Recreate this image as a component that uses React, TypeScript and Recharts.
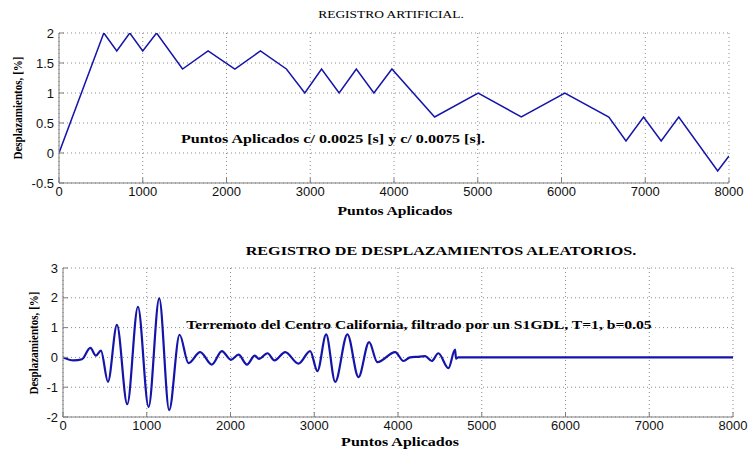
import React from "react";
import { LineChart, Line, XAxis, YAxis, CartesianGrid } from "recharts";

// x ticks shared by both plots
const xTicks = [0, 1000, 2000, 3000, 4000, 5000, 6000, 7000, 8000];
const artificialYTicks = [-0.5, 0, 0.5, 1, 1.5, 2];
const quakeYTicks = [-2, -1, 0, 1, 2, 3];

// REGISTRO ARTIFICIAL (piecewise linear)
const artificialX = [0, 535, 690, 845, 1000, 1165, 1475, 1780, 2100, 2405, 2715, 2935, 3135, 3345, 3550, 3760, 3975, 4485, 5005, 5520, 6040, 6565, 6770, 6980, 7190, 7400, 7865, 8000];
const artificialY = [0, 2, 1.7, 2, 1.7, 2, 1.4, 1.7, 1.4, 1.7, 1.4, 1, 1.4, 1, 1.4, 1, 1.4, 0.6, 1, 0.6, 1, 0.6, 0.2, 0.6, 0.2, 0.6, -0.3, -0.05];

// REGISTRO DE DESPLAZAMIENTOS ALEATORIOS (peaks / troughs)
const quakeX = [0, 127, 227, 326, 393, 453, 537, 644, 767, 895, 1022, 1149, 1268, 1392, 1499, 1638, 1778, 1897, 2005, 2096, 2196, 2290, 2340, 2442, 2525, 2653, 2812, 2951, 3038, 3142, 3250, 3396, 3528, 3655, 3754, 3966, 4065, 4145, 4230, 4324, 4403, 4482, 4602, 4681, 4693, 4720, 6000, 8000];
const quakeY = [0, -0.1, -0.06, 0.32, 0.06, 0.23, -0.82, 1.09, -1.57, 1.7, -1.66, 1.98, -1.77, 0.76, -0.19, 0.18, -0.24, 0.21, -0.08, 0.09, -0.24, 0.06, -0.05, 0.14, -0.1, 0.18, -0.21, 0.21, -0.46, 0.77, -0.82, 0.77, -0.66, 0.51, -0.16, 0.18, -0.12, 0.0, 0.02, 0.04, -0.12, 0.14, -0.36, 0.26, -0.04, 0, 0, 0];

const artificialData = artificialX.map((x, i) => ({ x, y: artificialY[i] }));
const quakeData = quakeX.map((x, i) => ({ x, y: quakeY[i] }));

const axisColor = "#7f7f7f";
const lineColor = "#1414aa";
const tickStyle = { fontFamily: "'Liberation Sans', Arial, sans-serif", fontSize: 13, fill: "#111" };
const serif = "'Liberation Serif', 'Times New Roman', serif";

// matlab's serif text comes out wider than Times, so stretch it a bit
const Label = ({ left, top, size, bold, children, rotate, stretch = 1 }: any) => (
  <div
    style={{
      position: "absolute",
      left,
      top,
      fontFamily: serif,
      fontSize: size,
      fontWeight: bold ? "bold" : "normal",
      whiteSpace: "nowrap",
      color: "#000",
      transform: rotate
        ? `translate(-50%, -50%) rotate(-90deg) scaleX(${stretch})`
        : `translate(-50%, -50%) scaleX(${stretch})`,
      lineHeight: 1,
    }}
  >
    {children}
  </div>
);

interface PlotProps {
  data: { x: number; y: number }[];
  yTicks: number[];
  width: number;
  height: number;
  margin: { top: number; right: number; left: number; bottom: number };
  yWidth: number;
  xHeight: number;
  strokeWidth: number;
  curve: "linear" | "monotone";
}

const Plot = ({ data, yTicks, width, height, margin, yWidth, xHeight, strokeWidth, curve }: PlotProps) => {
  const yDomain = [yTicks[0], yTicks[yTicks.length - 1]];
  return (
    <LineChart width={width} height={height} data={data} margin={margin}>
      <CartesianGrid stroke="#8a8a8a" strokeDasharray="1 3" />
      <XAxis
        dataKey="x"
        type="number"
        domain={[0, 8000]}
        ticks={xTicks}
        interval={0}
        height={xHeight}
        stroke={axisColor}
        tickSize={-5}
        tickMargin={9}
        tick={tickStyle}
        allowDataOverflow
      />
      <XAxis
        xAxisId="top"
        dataKey="x"
        type="number"
        orientation="top"
        domain={[0, 8000]}
        ticks={xTicks}
        interval={0}
        height={0}
        stroke={axisColor}
        tickSize={-5}
        tickFormatter={() => ""}
        allowDataOverflow
      />
      <YAxis
        type="number"
        domain={yDomain}
        ticks={yTicks}
        interval={0}
        width={yWidth}
        stroke={axisColor}
        tickSize={-5}
        tickMargin={10}
        tick={tickStyle}
        allowDataOverflow
      />
      <YAxis
        yAxisId="right"
        type="number"
        orientation="right"
        domain={yDomain}
        ticks={yTicks}
        interval={0}
        width={0}
        stroke={axisColor}
        tickSize={-5}
        tickFormatter={() => ""}
        allowDataOverflow
      />
      <Line
        type={curve}
        dataKey="y"
        stroke={lineColor}
        strokeWidth={strokeWidth}
        dot={false}
        activeDot={false}
        isAnimationActive={false}
      />
    </LineChart>
  );
};

const App = () => {
  return (
    <div style={{ position: "absolute", left: 0, top: 0, width: 748, height: 449, background: "#fff", overflow: "hidden" }}>
      <div style={{ position: "absolute", left: 0, top: 0 }}>
        <Plot
          data={artificialData}
          yTicks={artificialYTicks}
          width={748}
          height={225}
          margin={{ top: 33, right: 19, left: 0, bottom: 0 }}
          yWidth={59}
          xHeight={42}
          strokeWidth={1.5}
          curve="linear"
        />
      </div>
      <div style={{ position: "absolute", left: 0, top: 230 }}>
        <Plot
          data={quakeData}
          yTicks={quakeYTicks}
          width={748}
          height={219}
          margin={{ top: 38, right: 15, left: 0, bottom: 0 }}
          yWidth={63}
          xHeight={32}
          strokeWidth={2.2}
          curve="monotone"
        />
      </div>

      <Label left={391} top={15} size={10.5} stretch={1.28}>REGISTRO ARTIFICIAL.</Label>
      <Label left={333} top={139} size={12} bold stretch={1.34}>
        Puntos Aplicados c/ 0.0025 [s] y c/ 0.0075 [s].
      </Label>
      <Label left={395} top={210} size={13} bold stretch={1.2}>Puntos Aplicados</Label>
      <Label left={17} top={108} size={13} bold rotate stretch={0.85}>Desplazamientos, [%]</Label>

      <Label left={441} top={250} size={13} bold stretch={1.24}>REGISTRO DE DESPLAZAMIENTOS ALEATORIOS.</Label>
      <Label left={419} top={325} size={12.5} bold stretch={1.25}>
        Terremoto del Centro California, filtrado por un S1GDL, T=1, b=0.05
      </Label>
      <Label left={400} top={441} size={13} bold stretch={1.23}>Puntos Aplicados</Label>
      <Label left={33} top={343} size={13} bold rotate stretch={0.85}>Desplazamientos, [%]</Label>
    </div>
  );
};

export default App;
